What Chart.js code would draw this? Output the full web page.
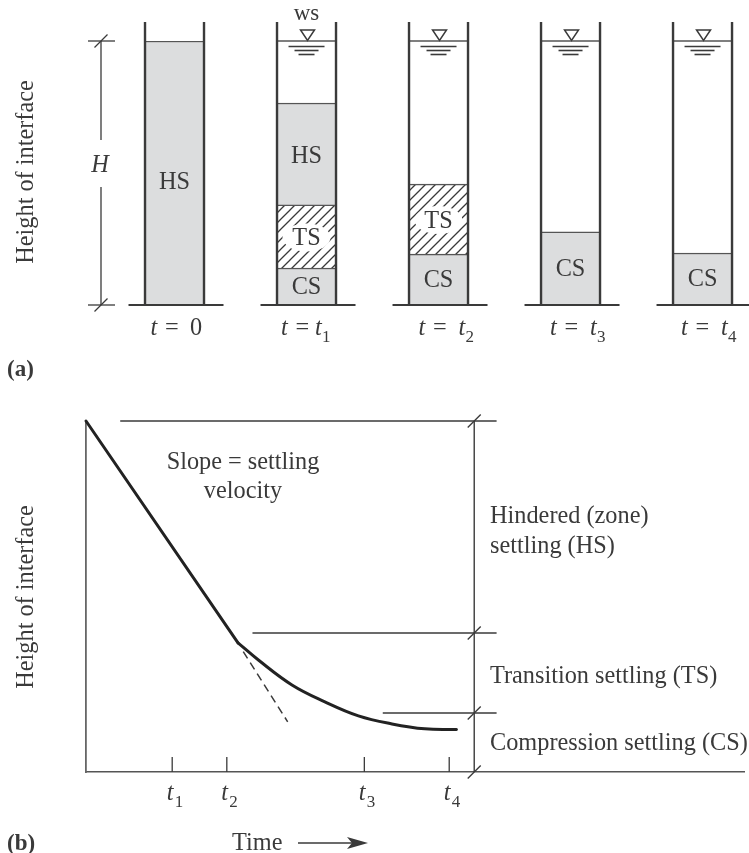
<!DOCTYPE html>
<html>
<head>
<meta charset="utf-8">
<script src="https://cdn.jsdelivr.net/npm/chart.js@4"></script>
<style>
  html, body { margin: 0; padding: 0; background: #fff; }
  #wrap { position: relative; width: 749px; height: 853px; overflow: hidden; }
  #wrap div { position: absolute; left: 0; width: 749px; }
  #boxA { top: 0; height: 400px; }
  #boxB { top: 400px; height: 453px; }
</style>
</head>
<body>
<div id="wrap">
  <div id="boxA"><canvas id="chartColumns"></canvas></div>
  <div id="boxB"><canvas id="chartCurve"></canvas></div>
</div>
<script>
// panel (a): zone thickness in each column, percent of H
const columnIndex = [0, 1, 2, 3, 4];
const columnSub = ['0', '1', '2', '3', '4'];
const csValues = [null, 14.0, 19.3, 27.7, 19.7];
const tsValues = [null, 23.9, 26.5, null, null];
const hsValues = [100, 38.6, null, null, null];
const waterLevel = [null, 100, 100, 100, 100];

// panel (b): time and height as percent of the axes
const straightX = [0, 23.1];
const straightY = [100, 36.8];
const bendX = [23.1, 26.2, 31.3, 36.3, 41.4, 46.5, 51.5, 56.3];
const bendY = [36.8, 31.9, 24.8, 20.0, 16.0, 13.7, 12.3, 12.1];
const slopeX = [23.9, 30.65];
const slopeY = [34.3, 14.3];
const timeTicks = [13.1, 21.4, 42.3, 55.2];
const timeSubs = ['1', '2', '3', '4'];
const zoneLevels = [100, 39.6, 16.8, 0];
const zoneLineStart = [5.2, 25.3, 45.1];
const zoneLineEnd = 62.4;
const zoneAxisX = 59;

const INK = '#3a3a3a';
const SERIF = '"Liberation Serif", "Times New Roman", serif';
const TEXT = 24.3;

function label(ctx, str, x, y, size, style, align) {
  ctx.font = (style ? style + ' ' : '') + size + 'px ' + SERIF;
  ctx.textAlign = align || 'left';
  ctx.textBaseline = 'alphabetic';
  ctx.fillStyle = INK;
  ctx.fillText(str, x, y);
}

function seg(ctx, x1, y1, x2, y2, width, color) {
  ctx.beginPath();
  ctx.moveTo(x1, y1);
  ctx.lineTo(x2, y2);
  ctx.lineWidth = width;
  ctx.strokeStyle = color || INK;
  ctx.stroke();
}

function slash(ctx, x, y) {
  seg(ctx, x - 6.5, y + 6.5, x + 6.5, y - 6.5, 1.3);
}

function rotated(ctx, str, x, y, size) {
  ctx.save();
  ctx.translate(x, y);
  ctx.rotate(-Math.PI / 2);
  label(ctx, str, 0, 0, size, '', 'center');
  ctx.restore();
}

// diagonal hatch for the transition zone
function hatchPattern() {
  const c = document.createElement('canvas');
  c.width = 10;
  c.height = 10;
  const g = c.getContext('2d');
  g.fillStyle = '#fff';
  g.fillRect(0, 0, 10, 10);
  g.strokeStyle = '#3a3a3a';
  g.lineWidth = 1.3;
  g.beginPath();
  g.moveTo(-2, 12); g.lineTo(12, -2);
  g.moveTo(-7, 7); g.lineTo(7, -7);
  g.moveTo(3, 17); g.lineTo(17, 3);
  g.stroke();
  return g.createPattern(c, 'repeat');
}

const columnDecor = {
  id: 'columnDecor',
  afterDatasetsDraw(chart) {
    const ctx = chart.ctx;
    const xs = chart.scales.x;
    const ys = chart.scales.y;
    const base = ys.getPixelForValue(0);
    const top = ys.getPixelForValue(100);
    const labelStart = [-24, -25.5, -20, -20.5, -21.5];
    const secondT = [39.5, 34, 40, 40, 40];

    columnIndex.forEach(i => {
      const cx = xs.getPixelForValue(i);
      // zone names
      let stack = 0;
      [['CS', csValues], ['TS', tsValues], ['HS', hsValues]].forEach(([name, vals]) => {
        const v = vals[i];
        if (v > 0) {
          let my = ys.getPixelForValue(stack + v / 2);
          if (v === 100) my += 7;
          if (name === 'TS') {
            ctx.fillStyle = '#fff';
            ctx.beginPath();
            ctx.ellipse(cx, my + 1, 24, 14, 0, 0, Math.PI * 2);
            ctx.fill();
          }
          label(ctx, name, cx, my + (name === 'CS' ? 7.5 : 9), TEXT, '', 'center');
          stack += v;
        }
      });
      // water surface
      if (waterLevel[i] !== null) {
        const wy = ys.getPixelForValue(waterLevel[i]);
        seg(ctx, cx - 29, wy, cx + 29, wy, 1.5, '#555');
        seg(ctx, cx - 18, wy + 5.5, cx + 18, wy + 5.5, 1.6);
        seg(ctx, cx - 12, wy + 9.5, cx + 12, wy + 9.5, 1.6);
        seg(ctx, cx - 8, wy + 13.5, cx + 8, wy + 13.5, 1.6);
        const tx = cx + 1;
        ctx.beginPath();
        ctx.moveTo(tx - 7, wy - 11);
        ctx.lineTo(tx + 7, wy - 11);
        ctx.lineTo(tx, wy - 0.5);
        ctx.closePath();
        ctx.fillStyle = '#fff';
        ctx.fill();
        ctx.lineWidth = 1.5;
        ctx.strokeStyle = INK;
        ctx.stroke();
      }
      // walls and floor
      seg(ctx, cx - 29.5, 22, cx - 29.5, base, 2.4);
      seg(ctx, cx + 29.5, 22, cx + 29.5, base, 2.4);
      seg(ctx, cx - 46, base, cx + 49, base, 2);
      // t = ... label
      const lx = cx + labelStart[i];
      label(ctx, 't', lx, 335, TEXT, 'italic');
      label(ctx, '=', lx + 14.5, 335, TEXT);
      if (i === 0) {
        label(ctx, columnSub[i], lx + secondT[i], 335, TEXT);
      } else {
        label(ctx, 't', lx + secondT[i], 335, TEXT, 'italic');
        label(ctx, columnSub[i], lx + secondT[i] + 7, 342, 17);
      }
    });

    label(ctx, 'ws', xs.getPixelForValue(1), 20, 23, '', 'center');

    // H dimension
    const dx = 101;
    seg(ctx, dx, top, dx, 140, 1.3);
    seg(ctx, dx, 187, dx, base, 1.3);
    seg(ctx, 88, top, 115, top, 1.3);
    seg(ctx, 88, base, 115, base, 1.3);
    slash(ctx, dx, top);
    slash(ctx, dx, base);
    label(ctx, 'H', 100, 172, TEXT, 'italic', 'center');

    rotated(ctx, 'Height of interface', 33, 172, TEXT);
    label(ctx, '(a)', 7, 376, 23, 'bold');
  }
};

const curveDecor = {
  id: 'curveDecor',
  afterDatasetsDraw(chart) {
    const ctx = chart.ctx;
    const xs = chart.scales.x;
    const ys = chart.scales.y;
    const base = ys.getPixelForValue(0);

    timeTicks.forEach((t, i) => {
      const px = xs.getPixelForValue(t);
      seg(ctx, px, base, px, base - 15, 1.3);
      label(ctx, 't', px - 5.5, base + 28, TEXT, 'italic');
      label(ctx, timeSubs[i], px + 2.5, base + 35, 17);
    });

    const zx = xs.getPixelForValue(zoneAxisX);
    zoneLevels.forEach(v => slash(ctx, zx, ys.getPixelForValue(v)));

    // page coordinates for the free text below
    ctx.save();
    ctx.translate(0, -400);
    label(ctx, 'Slope = settling', 243, 469, TEXT, '', 'center');
    label(ctx, 'velocity', 243, 498, TEXT, '', 'center');
    label(ctx, 'Hindered (zone)', 490, 523, TEXT);
    label(ctx, 'settling (HS)', 490, 553, TEXT);
    label(ctx, 'Transition settling (TS)', 490, 683, TEXT);
    label(ctx, 'Compression settling (CS)', 490, 750, TEXT);
    rotated(ctx, 'Height of interface', 33, 597, TEXT);
    label(ctx, '(b)', 7, 850, 23, 'bold');
    label(ctx, 'Time', 232, 850, TEXT);
    seg(ctx, 298, 843, 362, 843, 1.5);
    ctx.beginPath();
    ctx.moveTo(368, 843);
    ctx.lineTo(347, 837);
    ctx.lineTo(352, 843);
    ctx.lineTo(347, 849);
    ctx.closePath();
    ctx.fillStyle = INK;
    ctx.fill();
    ctx.restore();
  }
};

function toPoints(xs, ys) {
  return xs.map((x, i) => ({ x: x, y: ys[i] }));
}

Chart.defaults.animation = false;

new Chart(document.getElementById('chartColumns').getContext('2d'), {
  type: 'bar',
  data: {
    datasets: [
      { label: 'CS', data: toPoints(columnIndex, csValues), backgroundColor: '#dcddde', borderColor: '#555', borderWidth: { top: 1.5 }, borderSkipped: false, barThickness: 59 },
      { label: 'TS', data: toPoints(columnIndex, tsValues), backgroundColor: hatchPattern(), borderColor: '#555', borderWidth: { top: 1.5 }, borderSkipped: false, barThickness: 59 },
      { label: 'HS', data: toPoints(columnIndex, hsValues), backgroundColor: '#dcddde', borderColor: '#555', borderWidth: { top: 1.5 }, borderSkipped: false, barThickness: 59 }
    ]
  },
  options: {
    responsive: true,
    maintainAspectRatio: false,
    layout: { padding: { left: 0, right: 0, top: 41, bottom: 95 } },
    plugins: { legend: { display: false }, tooltip: { enabled: false } },
    scales: {
      // one unit is one column spacing
      x: { type: 'linear', display: false, stacked: true, offset: false, min: -1.322, max: 4.352 },
      y: { display: false, stacked: true, min: 0, max: 100 }
    }
  },
  plugins: [columnDecor]
});

const zoneDatasets = zoneLineStart.map((start, i) => ({
  label: 'zone ' + i,
  data: toPoints([start, zoneLineEnd], [zoneLevels[i], zoneLevels[i]]),
  showLine: true,
  pointRadius: 0,
  borderColor: INK,
  borderWidth: 1.4,
  clip: false
}));

new Chart(document.getElementById('chartCurve').getContext('2d'), {
  type: 'scatter',
  data: {
    datasets: [
      {
        label: 'Height of interface',
        data: toPoints(straightX, straightY),
        showLine: true,
        pointRadius: 0,
        borderColor: '#222',
        borderWidth: 3,
        borderCapStyle: 'round',
        clip: false
      },
      {
        label: 'Height of interface, bend',
        data: toPoints(bendX, bendY),
        showLine: true,
        pointRadius: 0,
        borderColor: '#222',
        borderWidth: 3,
        borderCapStyle: 'round',
        tension: 0.4,
        clip: false
      },
      {
        label: 'Slope',
        data: toPoints(slopeX, slopeY),
        showLine: true,
        pointRadius: 0,
        borderColor: INK,
        borderWidth: 1.5,
        borderDash: [8, 5],
        clip: false
      },
      {
        label: 'zone axis',
        data: toPoints([zoneAxisX, zoneAxisX], [0, 100]),
        showLine: true,
        pointRadius: 0,
        borderColor: INK,
        borderWidth: 1.4,
        clip: false
      },
      ...zoneDatasets
    ]
  },
  options: {
    responsive: true,
    maintainAspectRatio: false,
    layout: { padding: { left: 86, right: 5, top: 21, bottom: 81 } },
    plugins: { legend: { display: false }, tooltip: { enabled: false } },
    scales: {
      x: {
        type: 'linear', min: 0, max: 100,
        ticks: { display: false },
        grid: { drawOnChartArea: false, drawTicks: false },
        border: { color: '#555', width: 1.6 }
      },
      y: {
        type: 'linear', min: 0, max: 100,
        ticks: { display: false },
        grid: { drawOnChartArea: false, drawTicks: false },
        border: { color: '#666', width: 1.8 }
      }
    }
  },
  plugins: [curveDecor]
});
</script>
</body>
</html>
